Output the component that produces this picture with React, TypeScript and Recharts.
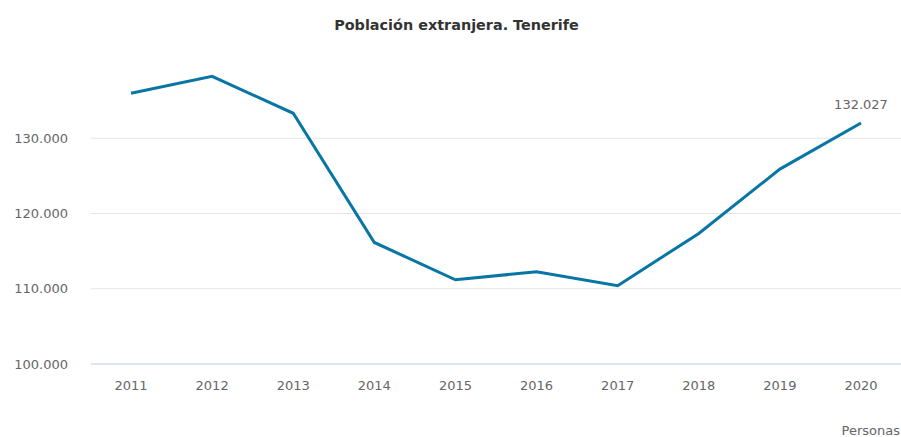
import { CartesianGrid, LabelList, Line, LineChart, XAxis, YAxis } from 'recharts';

const years = ['2011', '2012', '2013', '2014', '2015', '2016', '2017', '2018', '2019', '2020'];
const poblacion = [135980, 138230, 133320, 116150, 111190, 112260, 110400, 117350, 125900, 132027];
const yTicks = [100000, 110000, 120000, 130000];

const data = years.map((year, i) => ({ year, poblacion: poblacion[i] }));

const fmt = (v: number) => String(Math.round(v)).replace(/\B(?=(\d{3})+(?!\d))/g, '.');

const font = '"DejaVu Sans", sans-serif';

function LastLabel(props: any) {
  const { x, y, value, index } = props;
  if (index !== years.length - 1) return null;
  return (
    <text x={x} y={y - 14} textAnchor="middle" fill="#666666" fontSize={13} fontFamily={font}>
      {fmt(value)}
    </text>
  );
}

export default function App() {
  return (
    <div style={{ position: 'absolute', left: 0, top: 0, width: 901, height: 437, background: '#fff' }}>
      <div
        style={{
          position: 'absolute',
          top: 17,
          left: 0,
          width: 913,
          textAlign: 'center',
          fontFamily: font,
          fontWeight: 'bold',
          fontSize: 14.4,
          color: '#333333',
        }}
      >
        Población extranjera. Tenerife
      </div>
      <LineChart width={901} height={437} data={data} margin={{ top: 63, right: 0, left: 0, bottom: 43 }}>
        <CartesianGrid horizontal vertical={false} stroke="#e6e6e6" horizontalValues={yTicks} />
        <XAxis
          dataKey="year"
          height={30}
          padding={{ left: 40, right: 40 }}
          tick={{ fill: '#666666', fontSize: 13, fontFamily: font }}
          axisLine={{ stroke: '#ccd6eb' }}
          tickLine={false}
          tickSize={0}
          tickMargin={17}
        />
        <YAxis
          domain={[100000, 140000]}
          ticks={yTicks}
          width={91}
          tickFormatter={fmt}
          tick={{ fill: '#666666', fontSize: 13, fontFamily: font }}
          axisLine={false}
          tickLine={false}
          tickSize={0}
          tickMargin={23}
        />
        <Line
          type="linear"
          dataKey="poblacion"
          stroke="#0776a5"
          strokeWidth={3}
          dot={false}
          isAnimationActive={false}
        >
          <LabelList dataKey="poblacion" content={LastLabel} />
        </Line>
      </LineChart>
      <div
        style={{
          position: 'absolute',
          right: 1,
          top: 423,
          fontFamily: font,
          fontSize: 13,
          color: '#666666',
        }}
      >
        Personas
      </div>
    </div>
  );
}
